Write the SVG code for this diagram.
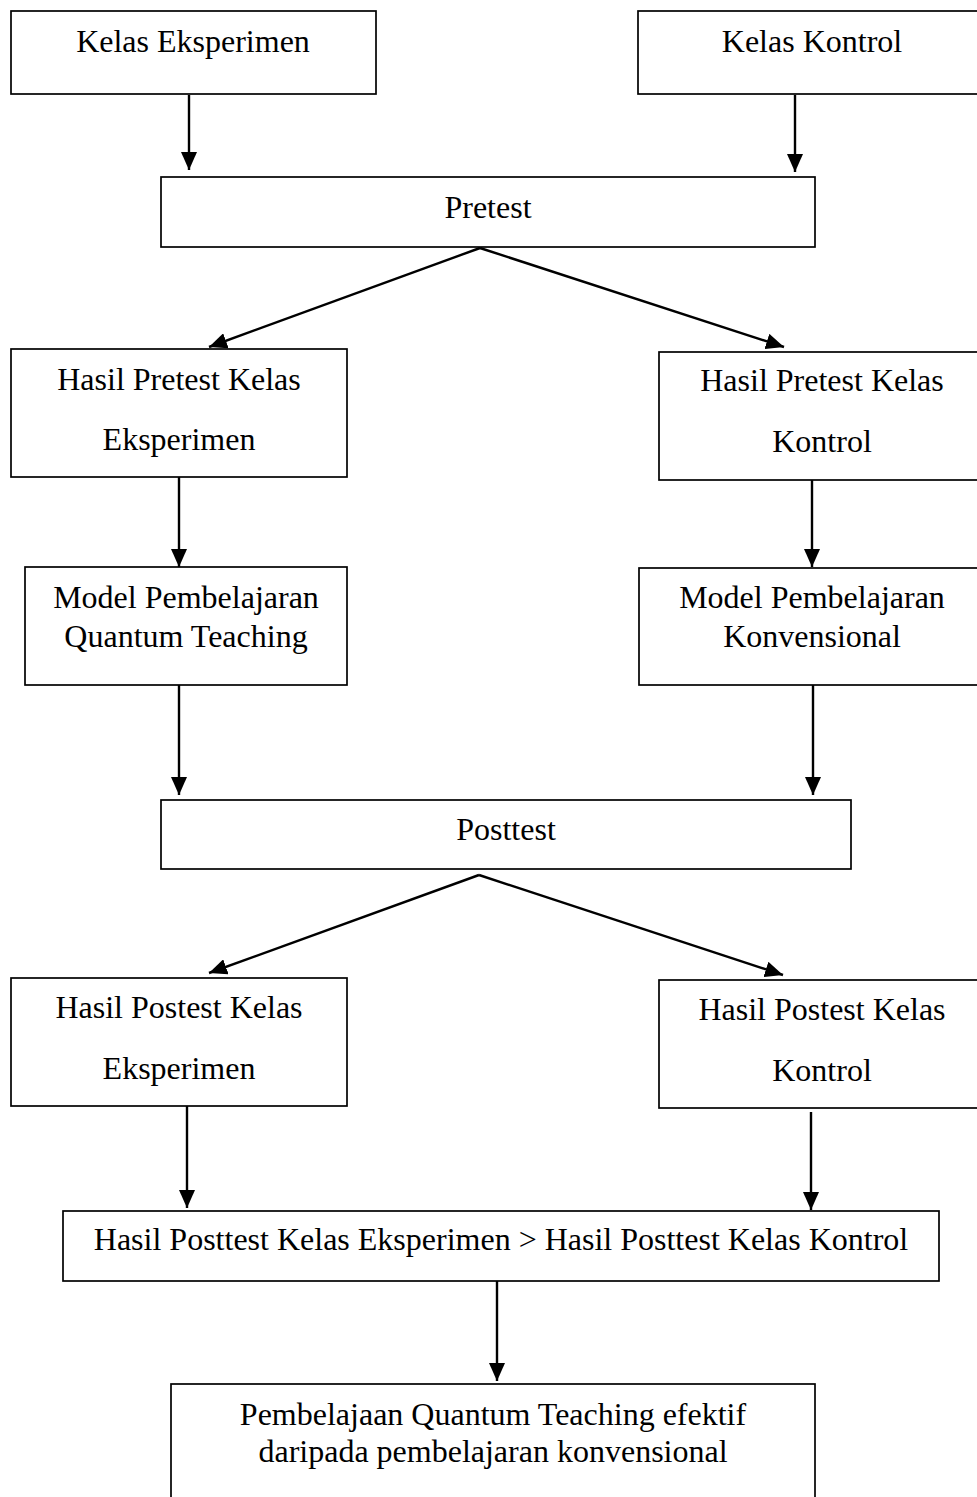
<svg xmlns="http://www.w3.org/2000/svg" width="977" height="1497" viewBox="0 0 977 1497">
<style>
.box{fill:#fff;stroke:#000;stroke-width:1.7}
.t{font-family:"Liberation Serif","Times New Roman",serif;font-size:32px;fill:#000;text-anchor:middle}
.c{stroke:#000;stroke-width:2.4;fill:none;marker-end:url(#ah)}
</style>
<defs>
<marker id="ah" markerUnits="userSpaceOnUse" markerWidth="18" markerHeight="16" refX="18" refY="8" orient="auto">
<path d="M0,0 L18,8 L0,16 Z" fill="#000"/>
</marker>
</defs>
<rect width="977" height="1497" fill="#fff"/>
<g id="connectors">
<line class="c" x1="189" y1="95" x2="189" y2="170"/>
<line class="c" x1="795" y1="95" x2="795" y2="172"/>
<line class="c" x1="480" y1="248" x2="209" y2="347"/>
<line class="c" x1="480" y1="248" x2="784" y2="347"/>
<line class="c" x1="179" y1="477" x2="179" y2="567"/>
<line class="c" x1="812" y1="480" x2="812" y2="567"/>
<line class="c" x1="179" y1="685" x2="179" y2="795"/>
<line class="c" x1="813" y1="685" x2="813" y2="795"/>
<line class="c" x1="479" y1="875" x2="209" y2="973"/>
<line class="c" x1="479" y1="875" x2="783" y2="975"/>
<line class="c" x1="187" y1="1106" x2="187" y2="1208"/>
<line class="c" x1="811" y1="1112" x2="811" y2="1210"/>
<line class="c" x1="497" y1="1281" x2="497" y2="1381"/>
</g>
<g id="kelas-eksperimen">
<rect class="box" x="11" y="11" width="365" height="83"/>
<text class="t" x="193" y="52">Kelas Eksperimen</text>
</g>
<g id="kelas-kontrol">
<rect class="box" x="638" y="11" width="360" height="83"/>
<text class="t" x="812" y="52">Kelas Kontrol</text>
</g>
<g id="pretest">
<rect class="box" x="161" y="177" width="654" height="70"/>
<text class="t" x="488" y="218">Pretest</text>
</g>
<g id="hasil-pretest-eksperimen">
<rect class="box" x="11" y="349" width="336" height="128"/>
<text class="t" x="179" y="390">Hasil Pretest Kelas</text>
<text class="t" x="179" y="450">Eksperimen</text>
</g>
<g id="hasil-pretest-kontrol">
<rect class="box" x="659" y="352" width="340" height="128"/>
<text class="t" x="822" y="391">Hasil Pretest Kelas</text>
<text class="t" x="822" y="452">Kontrol</text>
</g>
<g id="model-quantum">
<rect class="box" x="25" y="567" width="322" height="118"/>
<text class="t" x="186" y="608">Model Pembelajaran</text>
<text class="t" x="186" y="647">Quantum Teaching</text>
</g>
<g id="model-konvensional">
<rect class="box" x="639" y="568" width="360" height="117"/>
<text class="t" x="812" y="608">Model Pembelajaran</text>
<text class="t" x="812" y="647">Konvensional</text>
</g>
<g id="posttest">
<rect class="box" x="161" y="800" width="690" height="69"/>
<text class="t" x="506" y="840">Posttest</text>
</g>
<g id="hasil-postest-eksperimen">
<rect class="box" x="11" y="978" width="336" height="128"/>
<text class="t" x="179" y="1018">Hasil Postest Kelas</text>
<text class="t" x="179" y="1079">Eksperimen</text>
</g>
<g id="hasil-postest-kontrol">
<rect class="box" x="659" y="980" width="340" height="128"/>
<text class="t" x="822" y="1020">Hasil Postest Kelas</text>
<text class="t" x="822" y="1081">Kontrol</text>
</g>
<g id="perbandingan">
<rect class="box" x="63" y="1211" width="876" height="70"/>
<text class="t" x="501" y="1250">Hasil Posttest Kelas Eksperimen &gt; Hasil Posttest Kelas Kontrol</text>
</g>
<g id="kesimpulan">
<rect class="box" x="171" y="1384" width="644" height="130"/>
<text class="t" x="493" y="1425">Pembelajaan Quantum Teaching efektif</text>
<text class="t" x="493" y="1462">daripada pembelajaran konvensional</text>
</g>
</svg>
